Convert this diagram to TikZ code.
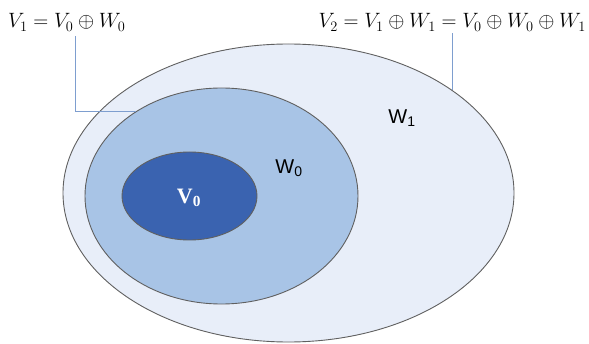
\documentclass[tikz,border=0pt]{standalone}
\usepackage{fontspec}
\setmainfont{Liberation Serif}
\newfontfamily\arialfont{Liberation Sans}
\usetikzlibrary{shapes.geometric}
\definecolor{ringout}{HTML}{E8EEF9}
\definecolor{ringmid}{HTML}{A8C4E6}
\definecolor{ringin}{HTML}{3A63B0}
\definecolor{edgegray}{HTML}{606060}
\definecolor{leadblue}{HTML}{7E9ECF}

\begin{document}
\begin{tikzpicture}[
    x=1pt, y=1pt,
    space/.style={ellipse, draw=edgegray, line width=0.9pt, inner sep=0pt},
    leader/.style={leadblue, line width=0.8pt},
    eqlabel/.style={inner sep=0pt, font=\fontsize{21}{24}\selectfont},
    wlabel/.style={font=\arialfont\fontsize{20}{24}\selectfont}
  ]
    \useasboundingbox (0,0) rectangle (589,343);

    % Nested spaces
    \node[space, fill=ringout, minimum width=451pt, minimum height=298pt] (outer) at (288.5,150) {};
    \node[space, fill=ringmid, minimum width=273pt, minimum height=216pt] (mid)   at (221.5,147) {};
    \node[space, fill=ringin,  minimum width=135pt, minimum height=88pt]  (inner) at (189.5,147) {};

    % Space names
    \node[text=white, font=\fontsize{22}{24}\selectfont\bfseries] (v0) at (189,145) {V\textsubscript{0}};
    \node[wlabel] (w0) at (289,175) {W\textsubscript{0}};
    \node[wlabel] (w1) at (402,225) {W\textsubscript{1}};

    % Decomposition labels
    \node[eqlabel, anchor=base west] (lblA) at (8,315) {$V_1 = V_0 \oplus W_0$};
    \node[eqlabel, anchor=base east] (lblB) at (586,315) {$V_2 = V_1 \oplus W_1 = V_0 \oplus W_0 \oplus W_1$};

    \draw[leader] ([xshift=9pt, yshift=-5pt]lblA.south) |- (mid.135);
    \draw[leader] ([yshift=-2pt]outer.32 |- lblB.south) -- (outer.32);

  \end{tikzpicture}
\end{document}
